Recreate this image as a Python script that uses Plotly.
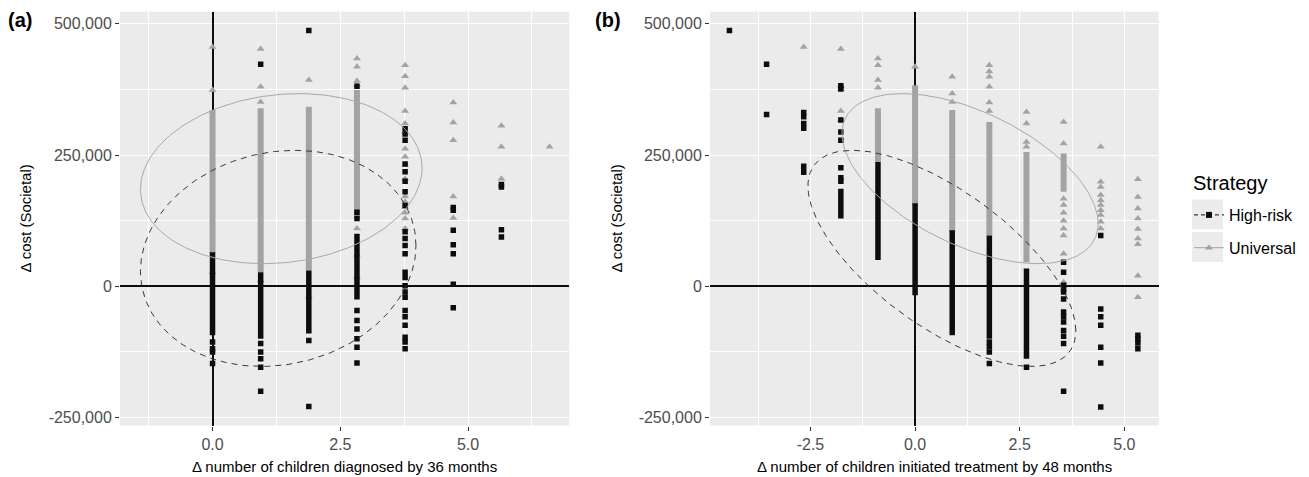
import numpy as np
import plotly.graph_objects as go

# ---------------- data (cost values in thousands) ----------------
# Panel (a): x = delta number of children diagnosed by 36 months
A_HR_DENSE_X = [0.0, 0.942, 1.884, 2.826]
A_HR_DENSE_LO = [-93, -100, -90, -25]
A_HR_DENSE_HI = [65, 27, 30, 100]
A_HR_PTS = {
    0.0: [-106, -119, -125, -147],
    0.942: [423, -109, -125, -138, -154, -200],
    1.884: [487, -103, -229],
    2.826: [381, 141, 129, -46, -65, -81, -100, -116, -146],
    3.768: [300, 290, 278, 233, 218, 200, 180, 154, 104, 91, 78, 62, 27, 17, 1, -11, -21,
            -46, -58, -74, -97, -106, -119],
    4.71: [150, 145, 107, 79, 62, 4, -41],
    5.652: [194, 189, 108, 94],
}
A_UN_DENSE_X = [0.0, 0.942, 1.884, 2.826]
A_UN_DENSE_LO = [62, 27, 30, 129]
A_UN_DENSE_HI = [336, 339, 342, 374]
A_UN_PTS = {
    0.0: [456, 374, 27],
    0.942: [452, 380, 351, 11],
    1.884: [393, -20],
    2.826: [434, 418, 391, 383, 110, 60, 18],
    3.768: [421, 400, 378, 334, 310, 294, 262, 247, 231, 205, 171, 161, 151, 140, 129, 110],
    4.71: [350, 312, 278, 171, 130],
    5.652: [306, 266, 205],
    6.594: [266],
}

# Panel (b): x = delta number of children initiated treatment by 48 months
B_HR_DENSE_X = [-2.661, -1.774, -0.887, 0.0, 0.887, 1.774, 2.661]
B_HR_DENSE_LO = [212, 129, 50, -17, -93, -100, -138]
B_HR_DENSE_HI = [234, 186, 237, 158, 107, 97, 34]
B_HR_PTS = {
    -4.435: [487],
    -3.548: [423, 327],
    -2.661: [331, 323, 310, 301],
    -1.774: [382, 376, 317, 294, 278, 226, 207, 200],
    1.774: [-106, -115, -125, -147],
    2.661: [-154],
    3.548: [46, 27, 2, -5, -11, -24, -49, -58, -68, -84, -95, -109, -200],
    4.435: [97, -43, -58, -74, -116, -146, -230],
    5.322: [-93, -100, -108, -119],
}
B_UN_DENSE_X = [-0.887, 0.0, 0.887, 1.774, 2.661, 3.548]
B_UN_DENSE_LO = [237, 154, 104, 97, 46, 180]
B_UN_DENSE_HI = [339, 383, 336, 313, 256, 253]
B_UN_PTS = {
    -2.661: [456],
    -1.774: [452, 382, 376, 334, 317],
    -0.887: [434, 421, 393, 378],
    0.0: [418],
    0.887: [399, 367, 351],
    1.774: [421, 409, 399, 380, 350, 334],
    2.661: [332, 310, 275, 266],
    3.548: [313, 272, 167, 155, 140, 125, 110, 97, 62, 8],
    4.435: [266, 199, 189, 174, 164, 155, 145, 136, 123, 110],
    5.322: [204, 170, 148, 129, 109, 91, 80, 20, -21],
}

# Data ellipses: centre x, centre y (thousands), half-width, half-height, correlation
ELL_A_HR = [1.285, 53.25, 2.695, 205.75, 0.12]
ELL_A_UN = [1.345, 205.1, 2.755, 161.9, 0.125]
ELL_B_HR = [0.64, 53.25, 3.2, 205.75, -0.67]
ELL_B_UN = [1.3125, 205.1, 3.06, 161.9, -0.53]

Y_TICKS = [-250000, 0, 250000, 500000]
Y_TICKTEXT = ["-250,000", "0", "250,000", "500,000"]
XA_TICKS = [0.0, 2.5, 5.0]
XA_TICKTEXT = ["0.0", "2.5", "5.0"]
XB_TICKS = [-2.5, 0.0, 2.5, 5.0]
XB_TICKTEXT = ["-2.5", "0.0", "2.5", "5.0"]

# ---------------- styling ----------------
W, H = 1309, 477
FONT = "Liberation Sans, Arial, Helvetica, sans-serif"
BLACK = "#0d0d0d"
GREY = "#a3a3a3"
PANEL = "#ebebeb"


def px(x):
    return x / W


def py(y):
    return 1 - y / H


def dense_xy(xs, lo, hi):
    X, Y = [], []
    for x, a, b in zip(xs, lo, hi):
        X += [x, x, None]
        Y += [a * 1000, b * 1000, None]
    return X, Y


def pts_xy(d):
    X, Y = [], []
    for x, ys in d.items():
        for v in ys:
            X.append(x)
            Y.append(v * 1000)
    return X, Y


def ellipse(p):
    cx, cy, a, b, c = p
    t = np.linspace(0, 2 * np.pi, 241)
    d = np.arccos(c)
    return cx + a * np.cos(t), (cy + b * np.cos(t - d)) * 1000


fig = go.Figure()

panels = [
    ("x", "y", A_HR_DENSE_X, A_HR_DENSE_LO, A_HR_DENSE_HI, A_HR_PTS,
     A_UN_DENSE_X, A_UN_DENSE_LO, A_UN_DENSE_HI, A_UN_PTS, ELL_A_HR, ELL_A_UN),
    ("x2", "y2", B_HR_DENSE_X, B_HR_DENSE_LO, B_HR_DENSE_HI, B_HR_PTS,
     B_UN_DENSE_X, B_UN_DENSE_LO, B_UN_DENSE_HI, B_UN_PTS, ELL_B_HR, ELL_B_UN),
]

for (xa, ya, hdx, hlo, hhi, hpts, udx, ulo, uhi, upts, ehr, eun) in panels:
    # Universal points (grey triangles)
    X, Y = dense_xy(udx, ulo, uhi)
    fig.add_trace(go.Scatter(x=X, y=Y, mode="lines", line=dict(color=GREY, width=6),
                             xaxis=xa, yaxis=ya, showlegend=False, hoverinfo="skip"))
    X, Y = pts_xy(upts)
    fig.add_trace(go.Scatter(x=X, y=Y, mode="markers",
                             marker=dict(symbol="triangle-up", size=7, color=GREY, line=dict(width=0)),
                             xaxis=xa, yaxis=ya, showlegend=False))
    # High-risk points (black squares)
    X, Y = dense_xy(hdx, hlo, hhi)
    fig.add_trace(go.Scatter(x=X, y=Y, mode="lines", line=dict(color=BLACK, width=5.5),
                             xaxis=xa, yaxis=ya, showlegend=False, hoverinfo="skip"))
    X, Y = pts_xy(hpts)
    fig.add_trace(go.Scatter(x=X, y=Y, mode="markers",
                             marker=dict(symbol="square", size=5.5, color=BLACK, line=dict(width=0)),
                             xaxis=xa, yaxis=ya, showlegend=False))
    # ellipses
    ex, ey = ellipse(eun)
    fig.add_trace(go.Scatter(x=ex, y=ey, mode="lines", line=dict(color="#a8a8a8", width=1),
                             xaxis=xa, yaxis=ya, showlegend=False, hoverinfo="skip"))
    ex, ey = ellipse(ehr)
    fig.add_trace(go.Scatter(x=ex, y=ey, mode="lines",
                             line=dict(color="#383838", width=1, dash="6px,5px"),
                             xaxis=xa, yaxis=ya, showlegend=False, hoverinfo="skip"))

# legend entries
fig.add_trace(go.Scatter(x=[None], y=[None], mode="lines+markers", name="High-risk",
                         line=dict(color=BLACK, width=1, dash="4px,3px"),
                         marker=dict(symbol="square", size=6, color=BLACK),
                         legendgroup="hr"))
fig.add_trace(go.Scatter(x=[None], y=[None], mode="lines+markers", name="Universal",
                         line=dict(color=GREY, width=1),
                         marker=dict(symbol="triangle-up", size=7, color=GREY),
                         legendgroup="un"))

ylo, yhi = -265000, 523000
dom_y = [py(425.5), py(11.7)]
common_axis = dict(showline=False, ticks="outside", ticklen=4, tickwidth=1, tickcolor="#333333",
                   tickfont=dict(family=FONT, size=16, color="#4d4d4d"),
                   gridcolor="white", gridwidth=1.4, zeroline=True, zerolinecolor=BLACK,
                   zerolinewidth=2, fixedrange=True)

fig.update_layout(
    width=W, height=H, margin=dict(l=0, r=0, t=0, b=0, autoexpand=False),
    paper_bgcolor="white", plot_bgcolor=PANEL,
    font=dict(family=FONT, color="black"),
    xaxis=dict(domain=[px(120), px(569.3)], range=[-1.81, 6.98], anchor="y",
               tickvals=XA_TICKS, ticktext=XA_TICKTEXT,
               minor=dict(tickvals=[-1.25, 1.25, 3.75, 6.25], showgrid=True,
                          gridcolor="white", gridwidth=0.7),
               **common_axis),
    yaxis=dict(domain=dom_y, range=[ylo, yhi], anchor="x",
               tickvals=Y_TICKS, ticktext=Y_TICKTEXT,
               minor=dict(tickvals=[-125000, 125000, 375000], showgrid=True,
                          gridcolor="white", gridwidth=0.7),
               **common_axis),
    xaxis2=dict(domain=[px(710), px(1158.7)], range=[-4.9, 5.82], anchor="y2",
                tickvals=XB_TICKS, ticktext=XB_TICKTEXT,
                minor=dict(tickvals=[-3.75, -1.25, 1.25, 3.75], showgrid=True,
                           gridcolor="white", gridwidth=0.7),
                **common_axis),
    yaxis2=dict(domain=dom_y, range=[ylo, yhi], anchor="x2",
                tickvals=Y_TICKS, ticktext=Y_TICKTEXT,
                minor=dict(tickvals=[-125000, 125000, 375000], showgrid=True,
                           gridcolor="white", gridwidth=0.7),
                **common_axis),
    legend=dict(x=px(1189), y=py(198), xanchor="left", yanchor="top",
                bgcolor="rgba(0,0,0,0)", borderwidth=0,
                font=dict(family=FONT, size=16, color="black"),
                tracegroupgap=9, itemwidth=30),
    shapes=[
        dict(type="rect", xref="paper", yref="paper", x0=px(1192), x1=px(1223),
             y0=py(229.5), y1=py(199.5), fillcolor="#ececec", line=dict(width=0), layer="below"),
        dict(type="rect", xref="paper", yref="paper", x0=px(1192), x1=px(1223),
             y0=py(262), y1=py(232), fillcolor="#ececec", line=dict(width=0), layer="below"),
    ],
    annotations=[
        dict(text="Strategy", x=px(1191), y=py(183), xref="paper", yref="paper",
             xanchor="left", yanchor="middle", showarrow=False,
             font=dict(family=FONT, size=20, color="black")),
        dict(text="<b>(a)</b>", x=px(6), y=py(20), xref="paper", yref="paper",
             xanchor="left", yanchor="middle", showarrow=False,
             font=dict(family=FONT, size=20, color="black")),
        dict(text="<b>(b)</b>", x=px(593), y=py(20), xref="paper", yref="paper",
             xanchor="left", yanchor="middle", showarrow=False,
             font=dict(family=FONT, size=20, color="black")),
        dict(text="Δ number of children diagnosed by 36 months", x=px(344.6), y=py(466),
             xref="paper", yref="paper", xanchor="center", yanchor="middle", showarrow=False,
             font=dict(family=FONT, size=15, color="black")),
        dict(text="Δ number of children initiated treatment by 48 months", x=px(934.3), y=py(466),
             xref="paper", yref="paper", xanchor="center", yanchor="middle", showarrow=False,
             font=dict(family=FONT, size=15, color="black")),
        dict(text="Δ cost (Societal)", x=px(26), y=py(218.6), textangle=-90,
             xref="paper", yref="paper", xanchor="center", yanchor="middle", showarrow=False,
             font=dict(family=FONT, size=15, color="black")),
        dict(text="Δ cost (Societal)", x=px(617), y=py(218.6), textangle=-90,
             xref="paper", yref="paper", xanchor="center", yanchor="middle", showarrow=False,
             font=dict(family=FONT, size=15, color="black")),
    ],
)

fig.write_html("out.html", config=dict(displayModeBar=False),
               post_script="document.body.style.margin='0';document.body.style.overflow='hidden';")
